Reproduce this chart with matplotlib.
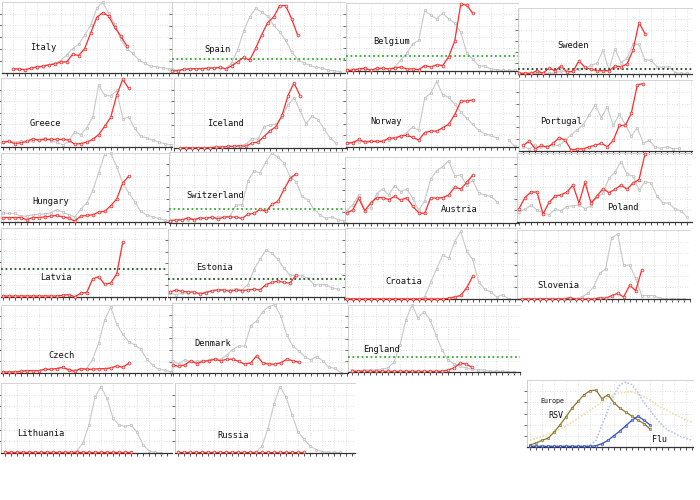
import matplotlib
matplotlib.use("Agg")
import matplotlib.pyplot as plt
from matplotlib.ticker import MultipleLocator

nan = float("nan")

# ---------------- data (percent of panel height) ----------------
italy_prev = [5,5,4,6,7,8,10,13,17,25,34,40,53,67,91,100,84,69,47,34,27,18,13,9,8,7,5]
italy_curr = [5,5,4,6,8,9,11,12,15,15,26,24,34,56,78,85,80,64,52,38]

spain_prev = [5,4,5,5,6,6,6,7,7,6,14,33,59,79,91,86,80,67,58,46,30,19,14,11,8,7,4,3,2]
spain_curr = [3,3,5,6,6,6,7,7,8,6,10,16,22,18,35,54,71,79,95,95,76,53]
spain_thr = 20

belgium_prev = [2,3,2,3,2,1,4,3,6,16,26,40,45,89,82,77,85,77,70,57,27,17,8,7,3,2,1,1,1]
belgium_curr = [1,1,3,4,1,4,4,3,4,6,3,3,2,8,6,9,8,21,44,98,97,85]
belgium_thr = 22

sweden_prev = [1,1,1,1,1,1,2,4,4,4,7,9,13,16,36,6,38,17,24,45,45,21,21,11,10,11,2,1,1]
sweden_curr = [1,1,1,5,1,9,5,12,3,4,20,10,7,5,5,5,12,11,15,36,78,61]
sweden_thr = 7

greece_prev = [7,9,7,8,9,8,10,13,9,7,3,8,22,18,28,43,90,75,74,82,41,43,27,16,13,10,7,5,3]
greece_curr = [7,8,5,6,8,12,10,11,11,11,11,10,4,5,7,11,18,30,43,75,98,85]

iceland_prev = [1,1,1,1,1,1,2,2,3,3,4,6,14,13,31,33,35,45,62,72,54,35,46,41,28,15,8]
iceland_curr = [1,1,1,1,1,1,2,2,3,3,4,3,8,9,17,25,31,47,75,93,75]

norway_prev = [6,7,7,8,9,9,9,10,13,15,21,29,24,71,78,95,76,72,62,51,42,33,24,19,17,13,nan,10,1]
norway_curr = [6,6,11,7,8,8,8,13,13,16,17,14,10,21,23,23,28,33,47,66,67,68]

portugal_prev = [6,3,8,5,7,8,8,15,23,30,37,51,65,47,62,36,52,37,21,33,11,15,5,4,6,3,4]
portugal_curr = [8,14,3,8,5,11,19,15,1,3,3,6,8,11,6,15,36,36,53,93,95]

hungary_prev = [13,12,12,8,8,10,11,11,13,17,14,10,7,18,27,45,71,98,99,80,56,42,29,15,10,7,5,2,1]
hungary_curr = [6,6,6,6,3,6,6,7,8,9,7,5,1,8,9,10,14,15,23,33,56,66]

swiss_prev = [3,3,4,4,5,6,6,7,8,8,9,25,25,59,73,70,86,98,92,84,65,58,37,32,19,11,6,8,4,3]
swiss_curr = [3,4,4,7,4,7,6,8,5,8,8,8,6,12,13,19,16,26,30,47,62,69]
swiss_thr = 20

austria_prev = [18,27,42,19,23,44,51,42,56,47,51,37,19,33,66,79,85,94,71,72,57,64,45,42,40,32]
austria_curr = [15,19,37,18,30,38,38,35,40,34,38,25,15,14,38,37,38,42,54,51,61,72]

poland_prev = [14,18,24,17,13,10,18,16,22,23,24,19,23,36,41,63,72,87,69,66,46,58,56,37,27,27,18,16,7]
poland_curr = [19,35,43,43,11,28,37,39,43,53,27,57,27,37,48,42,47,53,47,56,61,98]

latvia_curr = [1,1,1,1,1,1,1,1,1,1,2,3,0,5,6,26,29,18,20,33,79]
latvia_thr = 41

estonia_prev = [5,3,5,5,6,5,7,8,10,9,10,12,10,18,40,55,69,64,55,42,32,31,31,27,18,18,18,13,11]
estonia_curr = [7,10,8,7,7,4,6,9,10,10,8,10,9,10,11,10,18,21,23,21,20,32]
estonia_thr = 26

croatia_prev = [0,0,0,0,0,0,0,0,0,0,0,0,0,3,24,43,62,58,81,96,68,56,24,14,10,3,6,0]
croatia_curr = [0,0,0,0,0,0,0,0,0,0,0,0,0,0,0,0,0,1,3,5,16,32]

slovenia_prev = [0,0,0,0,0,0,0,0,0,0,3,8,18,37,44,89,94,49,49,30,5,5,5,1,0,0,0,0]
slovenia_curr = [0,0,0,0,0,0,0,0,2,0,0,0,0,2,1,5,8,3,20,12,42]

czech_prev = [1,1,1,2,3,3,3,5,5,6,8,5,4,6,6,20,44,78,97,72,57,46,41,35,20,11,5,4,1]
czech_curr = [1,1,1,2,3,3,3,5,5,6,8,4,2,6,5,5,6,6,7,10,8,14]

denmark_prev = [17,14,19,17,17,18,19,21,20,26,34,39,39,68,75,88,95,98,82,55,39,32,24,19,24,18,9,7,1]
denmark_curr = [12,10,12,18,14,17,18,20,18,20,20,17,13,15,25,15,13,13,15,20,18,16]

england_prev = [3,1,3,3,3,4,6,15,40,78,100,81,90,78,55,33,18,12,9,6,4,3,3,1,1,1,0,0]
england_curr = [1,1,1,1,1,1,1,1,1,1,1,1,1,1,1,1,3,6,13,12,7]
england_thr = 22

lithuania_prev = [1,1,1,1,1,1,1,1,1,1,1,1,3,15,40,80,95,78,50,40,38,40,30,12,3,1,0]
lithuania_curr = [1]*22

russia_prev = [1,1,1,1,1,1,1,1,1,1,1,1,1,1,10,35,70,95,80,55,30,20,10,5,2,1,1,1]
russia_curr = [1]*22

europe_rsv = [3,6,10,13,22,33,45,58,68,78,84,85,72,78,66,58,52,46,40,35,27]
europe_rsv_prev = [10,13,16,19,22,27,31,37,43,49,55,61,67,73,78,81,82,82,79,75,70,64,58,54,49,45,40,37]
europe_flu_prev = [1,1,1,1,1,1,1,1,1,1,3,10,33,55,78,93,97,93,81,66,55,43,33,25,21,16,13,10]
europe_flu = [1,1,1,1,1,1,1,1,1,1,1,2,5,10,17,24,32,40,46,40,33]

# ---------------- layout (pixels) ----------------
W, H = 700, 500
fig = plt.figure(figsize=(7, 5), dpi=100)
fig.patch.set_facecolor("white")

GREEN = "#33aa33"
DKGREEN = "#1e5a1e"
MONO = "DejaVu Sans Mono"


def make_axes(rect, first):
    left, top, right, bottom = rect
    ax = fig.add_axes([left / W, 1 - bottom / H, (right - left) / W, (bottom - top) / H])
    sp = 6.0
    ax.set_xlim((left - first) / sp, (right - first) / sp)
    ax.set_ylim(0, 100)
    ax.xaxis.set_major_locator(MultipleLocator(2))
    ax.xaxis.set_minor_locator(MultipleLocator(1))
    ax.set_yticks([16.7, 33.3, 50, 66.7, 83.3])
    ax.grid(True, which="major", color="#d8d8d8", lw=0.6, ls=(0, (1, 2)))
    ax.tick_params(axis="x", which="both", direction="out", length=2.5, width=0.6,
                   color="#333333", labelbottom=False)
    ax.tick_params(axis="y", direction="out", length=2, width=0.6, color="#555555",
                   labelleft=False)
    ax.spines["bottom"].set_color("#333333")
    ax.spines["bottom"].set_linewidth(0.9)
    ax.spines["top"].set_color("#d4d4d4")
    ax.spines["top"].set_linewidth(0.7)
    ax.spines["left"].set_color("#bbbbbb")
    ax.spines["left"].set_linewidth(0.5)
    ax.spines["right"].set_visible(False)
    ax.set_facecolor("none")
    ax.set_axisbelow(True)
    return ax


def panel(rect, first, prev, curr, thr=None, thr_color=GREEN, label=None, label_xy=None):
    ax = make_axes(rect, first)
    if prev is not None:
        ax.plot(range(len(prev)), prev, color="#c8c8c8", lw=0.8, marker="s", ms=1.8,
                mfc="#f0f0f0", mec="#bcbcbc", mew=0.5, zorder=2, clip_on=False)
    if thr is not None:
        ax.axhline(thr, color=thr_color, lw=1.3, ls=(0, (1, 1.5)), zorder=3)
    if curr is not None:
        ax.plot(range(len(curr)), curr, color="#ff2a2a", lw=0.9, marker="o", ms=2.0,
                mfc="#ffe0e0", mec="#f02020", mew=0.5, zorder=4, clip_on=False)
    if label:
        fig.text(label_xy[0] / W, 1 - label_xy[1] / H, label, fontsize=6.3,
                 family=MONO, va="center", ha="left", color="#111111")
    return ax


# row 1
panel((2, 2, 172, 72.5), 12.7, italy_prev, italy_curr, label="Italy", label_xy=(30, 48))
panel((172, 2, 345, 73), 171.7, spain_prev, spain_curr, spain_thr, GREEN, "Spain", (204, 50))
panel((346, 3, 518, 71), 346.7, belgium_prev, belgium_curr, belgium_thr, GREEN, "Belgium", (373, 41))
panel((518, 8, 692, 74), 519, sweden_prev, sweden_curr, sweden_thr, "#224422", "Sweden", (557, 46))
# row 2
panel((1, 78, 172, 147), 2.7, greece_prev, greece_curr, label="Greece", label_xy=(30, 124))
panel((174, 78, 346, 148.5), 180, iceland_prev, iceland_curr, label="Iceland", label_xy=(207, 123))
panel((346, 78, 518, 147), 346.7, norway_prev, norway_curr, label="Norway", label_xy=(370, 121))
panel((519, 80, 692, 151), 523.3, portugal_prev, portugal_curr, label="Portugal", label_xy=(540, 121))
# row 3
panel((1, 152.7, 170, 221.7), 2.7, hungary_prev, hungary_curr, label="Hungary", label_xy=(32, 201))
panel((169, 151.7, 346, 222.7), 170, swiss_prev, swiss_curr, swiss_thr, GREEN, "Switzerland", (186, 195))
panel((345, 156.7, 518, 222.7), 346.7, austria_prev, austria_curr, label="Austria", label_xy=(441, 210))
panel((517, 152.7, 692, 221.7), 519, poland_prev, poland_curr, label="Poland", label_xy=(607, 208))
# row 4
panel((1, 228, 166, 296.7), 2.7, None, latvia_curr, latvia_thr, DKGREEN, "Latvia", (40, 277))
panel((168, 229, 345, 296.7), 170, estonia_prev, estonia_curr, estonia_thr, DKGREEN, "Estonia", (196, 268))
panel((345, 228.3, 520, 299), 346.7, croatia_prev, croatia_curr, label="Croatia", label_xy=(385, 281))
panel((517, 230, 690, 299), 521.7, slovenia_prev, slovenia_curr, label="Slovenia", label_xy=(537, 285))
# row 5
panel((1, 305, 172, 372.7), 2.7, czech_prev, czech_curr, label="Czech", label_xy=(48, 355))
panel((172, 303.3, 348, 373.3), 172.7, denmark_prev, denmark_curr, label="Denmark", label_xy=(194, 343))
panel((348, 305, 520, 372), 352, england_prev, england_curr, england_thr, GREEN, "England", (363, 349))
# row 6
panel((1, 383, 172, 453), 5, lithuania_prev, lithuania_curr, label="Lithuania", label_xy=(17, 434))
panel((175, 383, 355, 453), 178, russia_prev, russia_curr, label="Russia", label_xy=(217, 436))

# Europe summary panel
axe = make_axes((527, 380, 693, 447), 530)
axe.plot(range(len(europe_rsv_prev)), europe_rsv_prev, color="#f3dca6", lw=1.2,
         ls=(0, (1, 1)), zorder=2)
axe.plot(range(len(europe_flu_prev)), europe_flu_prev, color="#b4c4ee", lw=1.2,
         ls=(0, (1, 1)), zorder=2)
axe.plot(range(len(europe_rsv)), europe_rsv, color="#8a7a2c", lw=0.9, marker="s", ms=1.7,
         mfc="#d8cfa0", mec="#6e6020", mew=0.4, zorder=3, clip_on=False)
axe.plot(range(len(europe_flu)), europe_flu, color="#2850c8", lw=0.9, marker="s", ms=1.7,
         mfc="#a8b8ee", mec="#1e40b0", mew=0.4, zorder=3, clip_on=False)
fig.text(540 / W, 1 - 401 / H, "Europe", fontsize=4.8, family=MONO, va="center", color="#111111")
fig.text(548 / W, 1 - 416 / H, "RSV", fontsize=6, family=MONO, va="center", color="#111111")
fig.text(652 / W, 1 - 440 / H, "Flu", fontsize=6, family=MONO, va="center", color="#111111")

fig.savefig("out.png", dpi=100, facecolor="white")
